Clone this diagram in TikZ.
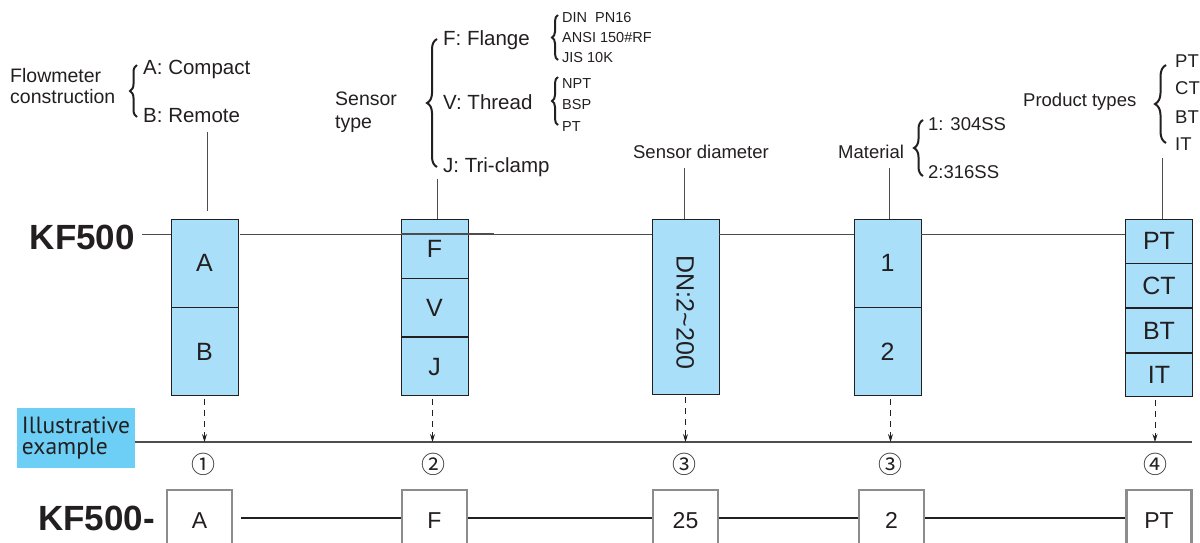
\documentclass[tikz,border=0pt]{standalone}
\usepackage{fontspec}
\usepackage{graphicx}
\setmainfont{Liberation Sans}
\newfontfamily\exfont{PT Sans}
\newfontfamily\cjk{Noto Sans CJK SC}
\usetikzlibrary{positioning,calc,arrows.meta,decorations.pathreplacing}
\definecolor{cellblue}{HTML}{AADFFA}
\definecolor{exblue}{HTML}{6DCFF6}
\definecolor{ink}{HTML}{231F20}
\definecolor{rim}{HTML}{8C8C8C}
\newcommand{\fsz}[1]{\fontsize{#1}{#1}\selectfont}

\begin{document}
\begin{tikzpicture}[x=1pt, y=1pt, every node/.style={text=ink, inner sep=0pt},
    big/.style={font=\fsz{20.5}, anchor=west, text height=14.7pt, text depth=0pt},
    mid/.style={font=\fsz{18.5}, text height=13.2pt, text depth=0pt},
    tiny/.style={font=\fsz{14.5}, anchor=west, text height=10.4pt, text depth=0pt},
    cell/.style={draw=ink, line width=0.8pt, fill=cellblue, minimum width=67pt,
      font=\fsz{25}, text height=17.9pt, text depth=0pt},
    pick/.style={draw=rim, line width=2.2pt, fill=white, minimum width=65pt,
      minimum height=60pt, font=\fsz{23}, text height=16.5pt, text depth=0pt},
    code/.style={font=\bfseries\fsz{35}, anchor=east, text height=25pt, text depth=0pt},
    curly/.style={decorate, decoration={brace, amplitude=#1}, line width=2pt, draw=ink},
    stem/.style={draw=ink!80, line width=0.8pt},
    rail/.style={draw=ink!80, line width=1pt},
    link/.style={draw=ink, line width=2pt},
    drop/.style={draw=ink, line width=0.8pt, dash pattern=on 6pt off 5pt,
      -{Stealth[length=8pt, width=5pt]}},
    num/.style={font=\cjk\fsz{24}}]
  \useasboundingbox (0,0) rectangle (1200,-542);
  \clip (0,0) rectangle (1200,-542);

  % option texts
  \node[font=\fsz{19.5}, anchor=west, align=left] (flow) at (10,-86) {Flowmeter\\[1pt]construction};
  \node[big] (cmp) at (143,-67) {A: Compact};
  \node[big] (rem) at (143,-115) {B: Remote};
  \node[font=\fsz{19.5}, anchor=west, align=left] (stype) at (335,-112) {Sensor\\[4pt]type};
  \node[big] (fla) at (443,-38) {F: Flange};
  \node[big] (thr) at (443,-102) {V: Thread};
  \node[big] (tri) at (443,-165) {J: Tri-clamp};
  \node[tiny] (din) at (562,-17) {DIN\ \ PN16};
  \node[tiny] (ansi) at (562,-37) {ANSI 150\#RF};
  \node[tiny] (jis) at (562,-57) {JIS 10K};
  \node[tiny] (npt) at (562,-83) {NPT};
  \node[tiny] (bsp) at (562,-104) {BSP};
  \node[tiny] (ptt) at (562,-126) {PT};
  \node[mid] (diam) at (701,-152) {Sensor diameter};
  \node[mid, anchor=west] (mat) at (838,-152) {Material};
  \node[mid, anchor=west] (s304) at (928,-124) {1: 304SS};
  \node[mid, anchor=west] (s316) at (928,-172) {2:316SS};
  \node[mid, anchor=west] (prod) at (1023,-100) {Product types};
  \node[mid, anchor=west] (tpt) at (1175,-61) {PT};
  \node[mid, anchor=west] (tct) at (1175,-88) {CT};
  \node[mid, anchor=west] (tbt) at (1175,-117) {BT};
  \node[mid, anchor=west] (tit) at (1175,-144) {IT};

  % braces
  \draw[curly=7pt] ($(rem.west)+(-6,-2)$) -- ($(cmp.west)+(-6,2)$);
  \draw[curly=10pt] ($(tri.west)+(-6,-2)$) -- ($(fla.west)+(-6,-1)$);
  \draw[curly=6pt] ($(jis.west)+(-4,-3)$) -- ($(din.west)+(-4,2)$);
  \draw[curly=6pt] ($(ptt.west)+(-4,1)$) -- ($(npt.west)+(-4,6)$);
  \draw[curly=9pt] ($(s316.west)+(-5,-4)$) -- ($(s304.west)+(-5,4)$);
  \draw[curly=11pt] ($(tit.west)+(-9,1)$) -- ($(tpt.west)+(-9,-4)$);

  % code boxes
  \node[code] (kf) at (135,-237) {KF500};
  \node[cell, minimum height=88pt] (A1) at (204.5,-263) {A};
  \node[cell, minimum height=88pt, below=0pt of A1] (A2) {B};
  \node[cell, minimum height=59pt] (F1) at (434.5,-248.5) {F};
  \node[cell, minimum height=58pt, below=0pt of F1] (F2) {V};
  \node[cell, minimum height=58pt, below=0pt of F2] (F3) {J};
  \node[cell, minimum height=175pt] (D) at (685.5,-306.5) {};
  \node[rotate=-90, font=\fsz{25}, text height=17.9pt, text depth=0pt] (dn)
    at ($(D.center)+(0,-6)$) {DN:2\textasciitilde200};
  \node[cell, minimum height=88pt] (M1) at (887.5,-263) {1};
  \node[cell, minimum height=88pt, below=0pt of M1] (M2) {2};
  \node[cell, minimum height=44pt] (P1) at (1159,-241) {PT};
  \node[cell, minimum height=44pt, below=0pt of P1] (P2) {CT};
  \node[cell, minimum height=44pt, below=0pt of P2] (P3) {BT};
  \node[cell, minimum height=43pt, below=0pt of P3] (P4) {IT};

  % rail
  \coordinate (rl) at (0,-234);
  \draw[rail] ($(kf.east |- rl)+(7,0)$) -- (rl -| A1.west);
  \draw[rail] ($(rl -| A1.east)+(2,0)$) -- (rl -| D.west);
  \draw[rail] (rl -| D.east) -- (rl -| M1.west);
  \draw[rail] (rl -| M1.east) -- (rl -| P1.west);
  \draw[rail, line width=1.5pt] (rl -| F1.west) -- ($(rl -| F1.east)+(26,0)$);

  % stems
  \draw[stem] ($(rem.south -| A1.north)+(2.5,-9)$) -- ($(A1.north)+(2.5,8)$);
  \draw[stem] ($(tri.south -| F1.north)+(2.5,-6)$) -- ($(F1.north)+(2.5,0)$);
  \draw[stem] ($(diam.south -| D.north)+(-1.5,-9)$) -- ($(D.north)+(-1.5,0)$);
  \draw[stem] ($(mat.south -| M1.north)+(1.5,-9)$) -- ($(M1.north)+(1.5,0)$);
  \draw[stem] ($(tit.south -| P1.north)+(3,-7)$) -- ($(P1.north)+(3,0)$);

  % illustrative example
  \node[fill=exblue, minimum width=118pt, minimum height=60pt, align=left,
    font=\exfont\fontsize{23.5}{20.5}\selectfont] (ill) at (76,-438) {Illustrative\\example};
  \coordinate (exl) at (135,-442);
  \coordinate (exr) at (1192,-442);
  \draw[rail, line width=1.3pt] (exl) -- (exr);
  \draw[drop] ($(A2.south)+(0,-3)$) -- (A2.south |- exl);
  \draw[drop] ($(F3.south)+(-2,-3)$) -- ($(F3.south |- exl)+(-2,0)$);
  \draw[drop] ($(D.south)+(0,-3)$) -- (D.south |- exl);
  \draw[drop] ($(M2.south)+(3,-3)$) -- ($(M2.south |- exl)+(3,0)$);
  \draw[drop] ($(P4.south)+(-4,-3)$) -- ($(P4.south |- exl)+(-4,0)$);

  \coordinate (rown) at (0,-464);
  \node[num] (n1) at ($(A2.south |- rown)+(-1,0)$) {①};
  \node[num] (n2) at ($(F3.south |- rown)+(-1,0)$) {②};
  \node[num] (n3) at ($(D.south |- rown)+(-1,0)$) {③};
  \node[num] (n4) at ($(M2.south |- rown)+(3,0)$) {③};
  \node[num] (n5) at ($(P4.south |- rown)+(-4,0)$) {④};

  % example code
  \node[code] (kfb) at (155,-518) {KF500-};
  \node[pick] (bA) at (199.5,-520) {A};
  \node[pick] (bF) at (434.5,-520) {F};
  \node[pick] (b25) at (685.5,-520) {25};
  \node[pick] (b2) at (891.5,-520) {2};
  \node[pick] (bPT) at (1159,-520) {PT};
  \coordinate (bl) at (0,-518);
  \draw[link] ($(bA.east |- bl)+(8,0)$) -- (bF.west |- bl);
  \draw[link] (bF.east |- bl) -- (b25.west |- bl);
  \draw[link] (b25.east |- bl) -- (b2.west |- bl);
  \draw[link] (b2.east |- bl) -- (bPT.west |- bl);
\end{tikzpicture}
\end{document}
